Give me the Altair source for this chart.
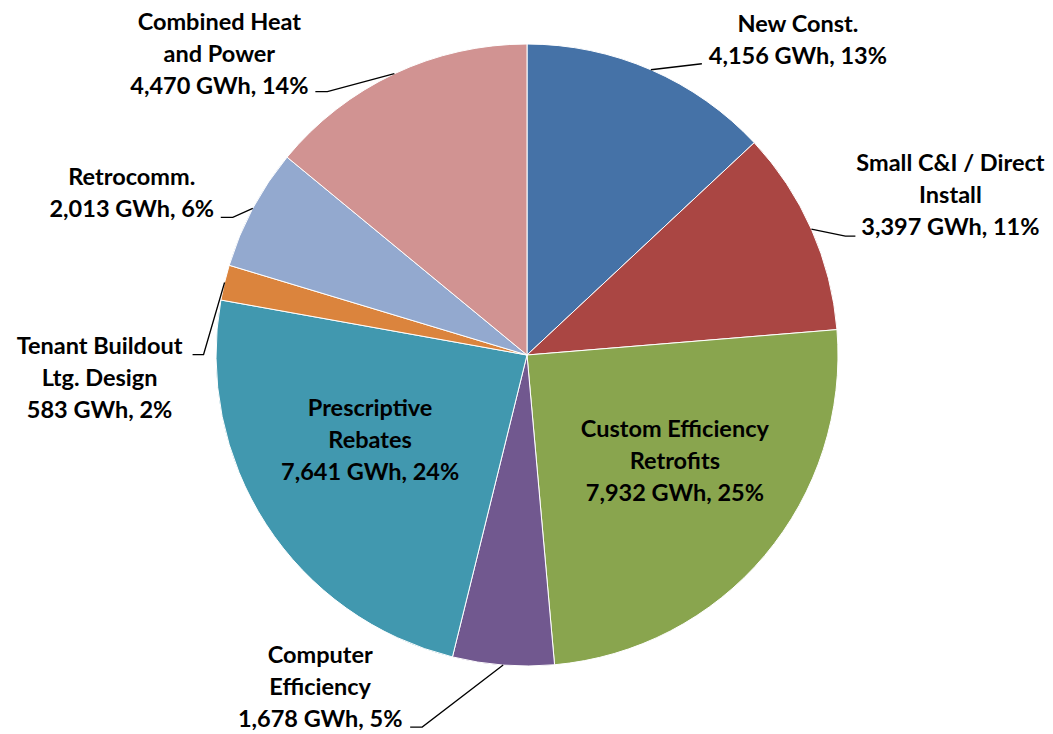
import math
import altair as alt
import pandas as pd

# Commercial & industrial program savings by program
categories = [
    "New Const.",
    "Small C&I / Direct Install",
    "Custom Efficiency Retrofits",
    "Computer Efficiency",
    "Prescriptive Rebates",
    "Tenant Buildout Ltg. Design",
    "Retrocomm.",
    "Combined Heat and Power",
]
label_lines = [
    ["New Const."],
    ["Small C&I / Direct", "Install"],
    ["Custom Efficiency", "Retrofits"],
    ["Computer", "Efficiency"],
    ["Prescriptive", "Rebates"],
    ["Tenant Buildout", "Ltg. Design"],
    ["Retrocomm."],
    ["Combined Heat", "and Power"],
]
gwh = [4156, 3397, 7932, 1678, 7641, 583, 2013, 4470]
colors = ["#4572A7", "#AA4643", "#89A54E", "#71588F",
          "#4198AF", "#DB843D", "#93A9CF", "#D19392"]

# Layout (pixels)
W, H = 1053, 734
CX, CY, R = 527, 355, 311
LINE_H = 32
FONT = "Lato"
FONT_SIZE = 23.5

# Offset of each label's value line from the slice's mid-edge point
label_dx = [147, 139, -90, -183, 104, -125, -121, -175]
label_dy = [-13, -1, -61, 55, -51, 128, 2, 13]
# Leader line elbow / end offsets from the mid-edge point (None = label inside slice)
leader = [
    ((51, -6), (51, -6)),
    ((34, 7), (44, 7)),
    None,
    ((-81, 62), (-93, 62)),
    None,
    ((-21, 72), (-32, 72)),
    ((-20, 9), (-32, 9)),
    ((-67, 18), (-79, 18)),
]

total = sum(gwh)
pie_df = pd.DataFrame({
    "idx": range(len(categories)),
    "category": categories,
    "gwh": gwh,
})

text_rows, line_rows = [], []
cum = 0
for i, (cat, v) in enumerate(zip(categories, gwh)):
    mid = (cum + v / 2) / total * 2 * math.pi
    cum += v
    ex = CX + R * math.sin(mid)
    ey = CY - R * math.cos(mid)
    lines = label_lines[i] + [f"{v:,} GWh, {round(v / total * 100)}%"]
    lx, ly = ex + label_dx[i], ey + label_dy[i]
    n = len(lines)
    for j, t in enumerate(lines):
        text_rows.append({"category": cat, "text": t, "x": lx,
                          "y": ly - (n - 1 - j) * LINE_H})
    if leader[i] is not None:
        (bx, by), (tx, ty) = leader[i]
        for k, (px, py) in enumerate([(ex, ey), (ex + bx, ey + by), (ex + tx, ey + ty)]):
            line_rows.append({"category": cat, "pt": k, "x": px, "y": py})

text_df = pd.DataFrame(text_rows)
line_df = pd.DataFrame(line_rows)

xs = alt.Scale(domain=[0, W], range=[0, W])
ys = alt.Scale(domain=[0, H], range=[0, H])

pie = alt.Chart(pie_df).mark_arc(stroke="white", strokeWidth=1).encode(
    theta=alt.Theta("gwh:Q", stack=True),
    color=alt.Color("category:N", scale=alt.Scale(domain=categories, range=colors), legend=None),
    order=alt.Order("idx:Q"),
    x=alt.value(CX),
    y=alt.value(CY),
    radius=alt.value(R),
)

leaders = alt.Chart(line_df).mark_line(color="black", strokeWidth=1.3).encode(
    x=alt.X("x:Q", scale=xs, axis=None),
    y=alt.Y("y:Q", scale=ys, axis=None),
    detail="category:N",
    order="pt:Q",
)

labels = alt.Chart(text_df).mark_text(
    font=FONT, fontSize=FONT_SIZE, fontWeight="bold", color="black",
    align="center", baseline="middle",
).encode(
    x=alt.X("x:Q", scale=xs, axis=None),
    y=alt.Y("y:Q", scale=ys, axis=None),
    text="text:N",
)

chart = alt.layer(pie, leaders, labels).properties(
    width=W, height=H, autosize="none", padding=0, background="white",
).configure_view(stroke=None)

chart.save("out.html", embed_options={"renderer": "svg", "actions": False})
